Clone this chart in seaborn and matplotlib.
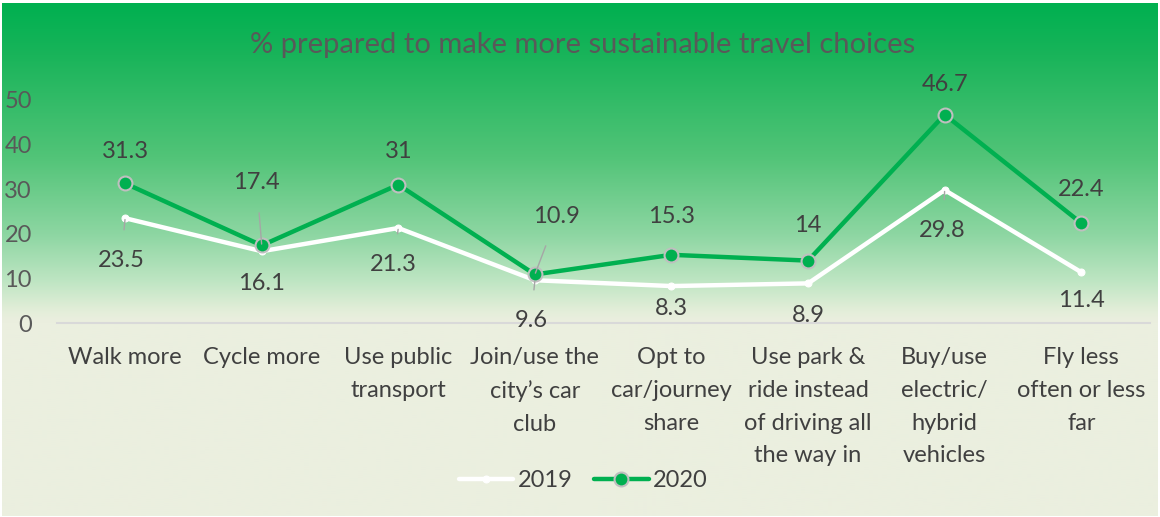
import numpy as np
import pandas as pd
import seaborn as sns
import matplotlib.pyplot as plt
from matplotlib.colors import LinearSegmentedColormap

categories = ["Walk more", "Cycle more", "Use public\ntransport", "Join/use the\ncity\u2019s car\nclub",
              "Opt to\ncar/journey\nshare", "Use park &\nride instead\nof driving all\nthe way in",
              "Buy/use\nelectric/\nhybrid\nvehicles", "Fly less\noften or less\nfar"]
values_2019 = [23.5, 16.1, 21.3, 9.6, 8.3, 8.9, 29.8, 11.4]
values_2020 = [31.3, 17.4, 31, 10.9, 15.3, 14, 46.7, 22.4]
labels_2019 = ["23.5", "16.1", "21.3", "9.6", "8.3", "8.9", "29.8", "11.4"]
labels_2020 = ["31.3", "17.4", "31", "10.9", "15.3", "14", "46.7", "22.4"]

# label offsets in pixels (dx, dy) and whether a leader line is drawn
off_2019 = [(-4, -42, True), (0, -32, False), (-5, -36, True), (-4, -40, True),
            (0, -22, False), (0, -32, False), (-2, -40, True), (0, -28, False)]
off_2020 = [(0, 32, False), (-5, 63, True), (0, 33, False), (22, 58, True),
            (0, 38, False), (0, 35, False), (0, 30, False), (0, 34, False)]

sns.set_style("white")
plt.rcParams["font.family"] = ["Lato", "DejaVu Sans"]

fig = plt.figure(figsize=(11.6, 5.17), dpi=100)

# gradient background
bg = fig.add_axes([0.002, 0.002, 0.996, 0.992])
cmap = LinearSegmentedColormap.from_list(
    "bg", [(0, "#00B050"), (0.1, "#19B45A"), (0.3, "#52C478"), (0.45, "#8DD6A2"),
           (0.54, "#BDE5C2"), (0.6, "#E3EED9"), (0.62, "#EBEFDF"), (1, "#EBEFDF")])
bg.imshow(np.linspace(0, 1, 256).reshape(-1, 1), aspect="auto", cmap=cmap,
          extent=[0, 1, 1, 0])
bg.axis("off")

ax = fig.add_axes([0.049, 0.375, 0.942, 0.475])
ax.patch.set_alpha(0)

x = np.arange(len(categories))
df19 = pd.DataFrame({"x": x, "v": values_2019})
df20 = pd.DataFrame({"x": x, "v": values_2020})

sns.lineplot(data=df19, x="x", y="v", ax=ax, color="white", lw=3.2, marker="o",
             markersize=5, markeredgecolor="white", label="2019")
sns.lineplot(data=df20, x="x", y="v", ax=ax, color="#00B050", lw=3.2, marker="o",
             markersize=10, markeredgecolor="#BFBFBF", markeredgewidth=1.5, label="2020")

for vals, labs, offs in [(values_2019, labels_2019, off_2019), (values_2020, labels_2020, off_2020)]:
    for i, (v, t, (dx, dy, lead)) in enumerate(zip(vals, labs, offs)):
        ax.annotate(t, (i, v), xytext=(dx, dy), textcoords="offset pixels",
                    ha="center", va="center", fontsize=17, color="#404040",
                    arrowprops=dict(arrowstyle="-", color="#A6A6A6", lw=1,
                                    shrinkA=12, shrinkB=1) if lead else None)

ax.set_xlim(-0.5, len(categories) - 0.5)
ax.set_ylim(0, 55)
ax.set_yticks([0, 10, 20, 30, 40, 50])
ax.set_xticks(x)
ax.set_xticklabels(categories, fontsize=17, color="#404040", va="top", linespacing=1.7)
ax.tick_params(axis="y", labelsize=17, labelcolor="#595959", length=0, pad=18)
ax.tick_params(axis="x", length=0, pad=17)
ax.set_xlabel("")
ax.set_ylabel("")
for s in ["top", "right", "left"]:
    ax.spines[s].set_visible(False)
ax.spines["bottom"].set_color("#D9D9D9")
ax.spines["bottom"].set_linewidth(1.5)

ax.legend(loc="center", bbox_to_anchor=(0.482, -0.64), ncol=2, frameon=False,
          fontsize=17, labelcolor="#404040", handlelength=2.3, columnspacing=0.9,
          handletextpad=0.2)

fig.text(0.502, 0.913, "% prepared to make more sustainable travel choices",
         ha="center", va="center", fontsize=21, color="#595959")

fig.savefig("out.png", dpi=100)
